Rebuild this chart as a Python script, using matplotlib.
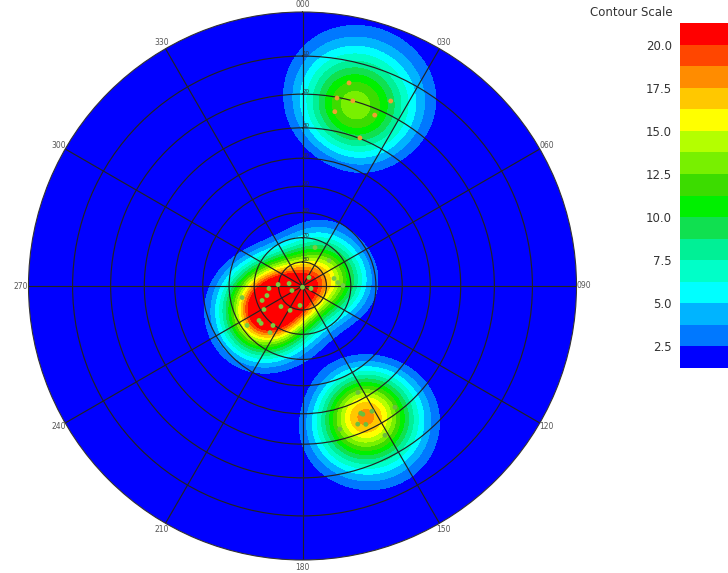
"""
Pole density stereonet (equal-angle, lower hemisphere) with contour scale.
"""

import matplotlib

matplotlib.use("Agg")
import matplotlib.pyplot as plt
import numpy as np
from matplotlib.colors import ListedColormap, BoundaryNorm

# Poles: trend (deg), plunge (deg)
NORTH_TREND = [12.9, 10.4, 15.2, 25.5, 10.5, 22.9, 21.2]
NORTH_PLUNGE = [15.5, 20.2, 20.0, 16.4, 24.2, 21.8, 29.8]

CENTRAL_TREND = [180.0, 246.8, 280.5, 273.5, 265.7, 255.0, 250.3, 226.4, 207.0,
                 238.6, 231.6, 227.9, 234.6, 214.9, 187.3, 216.8, 259.2, 18.0,
                 46.1, 37.4, 76.6, 84.4, 89.3, 106.4]
CENTRAL_PLUNGE = [89.5, 85.2, 84.3, 79.8, 76.0, 74.7, 72.2, 77.6, 78.6,
                  71.3, 67.1, 67.0, 62.1, 66.6, 81.8, 69.6, 64.7, 73.2,
                  74.7, 85.5, 76.5, 75.2, 73.2, 86.3]

SOUTH_TREND = [152.5, 155.4, 154.8, 151.0, 158.2, 155.4, 165.4, 142.7, 151.1]
SOUTH_PLUNGE = [42.7, 35.9, 35.3, 34.8, 33.0, 31.9, 33.3, 31.8, 26.2]

# contour scale
LEVELS = np.arange(1.25, 21.26, 1.25)
BAND_COLORS = ["#0000ff", "#0078ff", "#00b4ff", "#00ffff", "#00ffc8", "#00f096",
               "#10e050", "#00f000", "#3cdc00", "#78f000", "#b4ff00", "#ffff00",
               "#ffc800", "#ff8c00", "#ff4600", "#ff0000"]
SCALE_TICKS = [2.5, 5.0, 7.5, 10.0, 12.5, 15.0, 17.5, 20.0]

RING_PLUNGES = [10, 20, 30, 40, 50, 60, 70, 80]
KAPPA = 33.0
DENSITY_SCALE = 2.4


def to_vec(trend, plunge):
    t = np.radians(trend)
    p = np.radians(plunge)
    return np.stack([np.cos(p) * np.cos(t), np.cos(p) * np.sin(t), np.sin(p)], axis=-1)


def proj_r(plunge):
    return np.tan(np.radians(90.0 - np.asarray(plunge)) / 2.0)


def main():
    all_t = np.array(NORTH_TREND + CENTRAL_TREND + SOUTH_TREND)
    all_p = np.array(NORTH_PLUNGE + CENTRAL_PLUNGE + SOUTH_PLUNGE)
    poles = to_vec(all_t, all_p)

    theta = np.linspace(0, 2 * np.pi, 361)
    rr = np.linspace(0, 1, 220)
    TH, RR = np.meshgrid(theta, rr)
    grid_plunge = 90.0 - 2.0 * np.degrees(np.arctan(RR))
    gv = to_vec(np.degrees(TH), grid_plunge)
    cosang = np.tensordot(gv, poles.T, axes=([2], [0]))
    dens = DENSITY_SCALE * np.exp(KAPPA * (cosang - 1.0)).sum(axis=2)
    dens = np.clip(dens, LEVELS[0] + 0.01, LEVELS[-1] - 0.01)

    cmap = ListedColormap(BAND_COLORS)
    norm = BoundaryNorm(LEVELS, cmap.N)

    fig = plt.figure(figsize=(7.28, 5.73), dpi=100)
    ax = fig.add_axes([28 / 728, 13 / 573, 549 / 728, 548 / 573], projection="polar")
    ax.set_theta_zero_location("N")
    ax.set_theta_direction(-1)

    cf = ax.contourf(TH, RR, dens, levels=LEVELS, cmap=cmap, norm=norm)

    ax.scatter(np.radians(NORTH_TREND), proj_r(NORTH_PLUNGE), s=12,
               color="#f0a030", edgecolors="none", zorder=3)
    ax.scatter(np.radians(CENTRAL_TREND), proj_r(CENTRAL_PLUNGE), s=12,
               color="#78cc40", edgecolors="none", zorder=3)
    ax.scatter(np.radians(SOUTH_TREND), proj_r(SOUTH_PLUNGE), s=12,
               color="#6cbf3c", edgecolors="none", zorder=3)

    ax.set_ylim(0, 1)
    ax.set_rgrids(proj_r(RING_PLUNGES), labels=[str(p) for p in RING_PLUNGES],
                  angle=0, fontsize=4, color="#333333")
    ax.set_thetagrids(range(0, 360, 30),
                      labels=[f"{a:03d}" for a in range(0, 360, 30)],
                      fontsize=5.5, color="#555555")
    ax.tick_params(axis="x", pad=-5)
    ax.grid(True, color="#222222", linewidth=0.85)
    ax.spines["polar"].set_color("#333333")
    ax.spines["polar"].set_linewidth(0.8)

    cax = fig.add_axes([680 / 728, 205 / 573, 60 / 728, 345 / 573])
    cb = fig.colorbar(cf, cax=cax, ticks=SCALE_TICKS)
    cb.outline.set_visible(False)
    cax.minorticks_off()
    cax.yaxis.set_ticks_position("left")
    cax.tick_params(which="both", length=0, labelsize=8.5, labelcolor="#333333", pad=6)
    cax.set_yticklabels([f"{v:.1f}" for v in SCALE_TICKS])
    fig.text(673 / 728, 1 - 12 / 573, "Contour Scale", ha="right", va="center",
             fontsize=8.5, color="#333333")

    fig.savefig("out.png", dpi=100)
    plt.close(fig)


if __name__ == "__main__":
    main()
